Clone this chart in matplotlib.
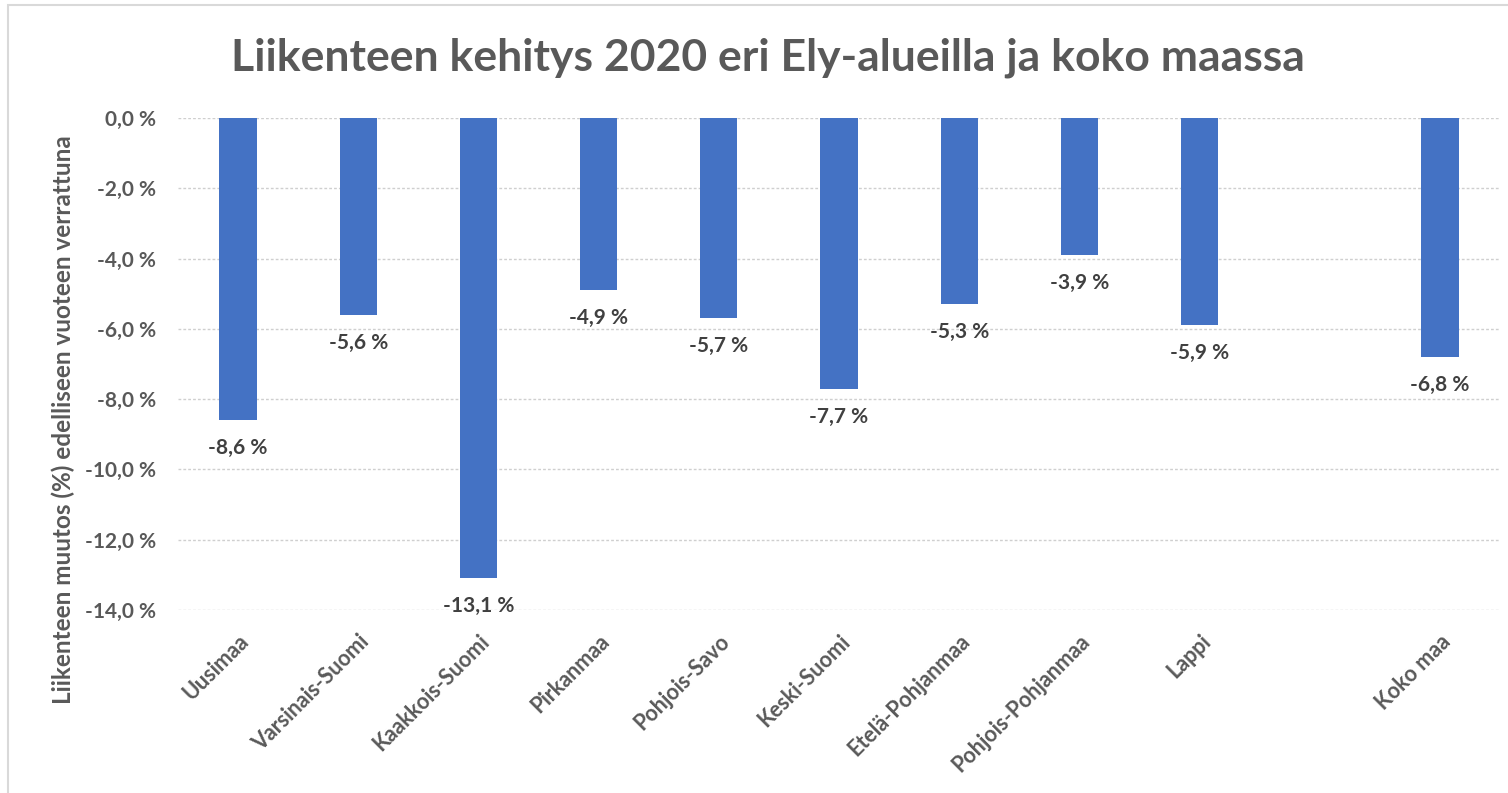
import matplotlib
matplotlib.use("Agg")
import matplotlib.pyplot as plt
from matplotlib.patches import Rectangle
from matplotlib.ticker import FuncFormatter

plt.rcParams['font.family'] = ['Lato', 'DejaVu Sans']

# data (empty slot between Lappi and Koko maa)
regions = ["Uusimaa", "Varsinais-Suomi", "Kaakkois-Suomi", "Pirkanmaa", "Pohjois-Savo",
           "Keski-Suomi", "Etelä-Pohjanmaa", "Pohjois-Pohjanmaa", "Lappi", "", "Koko maa"]
changes = [-8.6, -5.6, -13.1, -4.9, -5.7, -7.7, -5.3, -3.9, -5.9, None, -6.8]
y_ticks = [0, -2, -4, -6, -8, -10, -12, -14]

title = "Liikenteen kehitys 2020 eri Ely-alueilla ja koko maassa"
ylabel = "Liikenteen muutos (%) edelliseen vuoteen verrattuna"

bar_color = "#4472C4"
text_color = "#595959"

fig = plt.figure(figsize=(15.08, 7.93), dpi=100)
W, H = 1508, 793
ax = fig.add_axes([178 / W, 1 - 610 / H, (1500 - 178) / W, (610 - 118) / H])

# light frame around the chart (cut off at right and bottom like the screenshot)
fig.patches.append(Rectangle((8 / W, -0.1), 1.2, 1 - 5 / H + 0.1, transform=fig.transFigure,
                             fill=False, edgecolor="#D9D9D9", linewidth=1.5, zorder=0))

xs = list(range(len(regions)))
for x, v in zip(xs, changes):
    if v is None:
        continue
    ax.bar(x, v, width=0.31, color=bar_color, zorder=3)
    ax.annotate(f"{v:.1f} %".replace(".", ","), (x, v), xytext=(0, -13),
                textcoords="offset points", ha="center", va="top",
                fontsize=15, fontweight="bold", color="#404040", zorder=4)

ax.set_xlim(-0.5, len(regions) - 0.5)
ax.set_ylim(-14, 0)
ax.set_yticks(y_ticks)
ax.yaxis.set_major_formatter(FuncFormatter(lambda v, p: f"{v:.1f} %".replace(".", ",")))
ax.grid(axis="y", color="#CFCFCF", linestyle=(0, (2, 1.5)), linewidth=1, zorder=0)
ax.set_axisbelow(True)

ax.set_xticks(xs)
ax.set_xticklabels(regions, rotation=45, ha="right", va="top", rotation_mode="anchor",
                   fontsize=15.5, fontweight="bold", color=text_color)
ax.tick_params(axis="x", length=0, pad=15)
ax.tick_params(axis="y", length=0, pad=16, labelsize=15, labelcolor=text_color)
for lab in ax.get_yticklabels():
    lab.set_fontweight("bold")

for s in ax.spines.values():
    s.set_visible(False)

fig.text(768 / W, 1 - 58 / H, title, ha="center", va="center",
         fontsize=32, fontweight="bold", color=text_color)
fig.text(63 / W, 1 - 420 / H, ylabel, ha="center", va="center", rotation=90,
         fontsize=17.5, fontweight="bold", color=text_color)

fig.savefig("out.png", dpi=100)
